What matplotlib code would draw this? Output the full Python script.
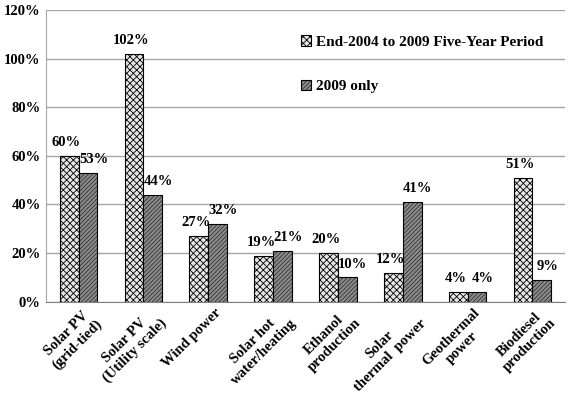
import numpy as np
import matplotlib
matplotlib.use("Agg")
import matplotlib.pyplot as plt
from matplotlib.ticker import FuncFormatter
from matplotlib.transforms import ScaledTranslation

categories = ["Solar PV\n(grid-tied)", "Solar PV\n(Utility scale)", "Wind power",
              "Solar hot\nwater/heating", "Ethanol\nproduction",
              "Solar\nthermal  power", "Geothermal\npower", "Biodiesel\nproduction"]
five_year = [60, 102, 27, 19, 20, 12, 4, 51]
only_2009 = [53, 44, 32, 21, 10, 41, 4, 9]
series_names = ["End-2004 to 2009 Five-Year Period", "2009 only"]

plt.rcParams["font.family"] = ["Liberation Serif", "DejaVu Serif"]
plt.rcParams["font.weight"] = "bold"
plt.rcParams["hatch.linewidth"] = 0.6
plt.rcParams["hatch.color"] = "#555555"

fig = plt.figure(figsize=(5.7, 3.94), dpi=100)
ax = fig.add_axes([0.081, 0.234, 0.91, 0.741])

x = np.arange(len(categories))
w = 0.29
b1 = ax.bar(x - w / 2, five_year, w, color="#e6e6e6", edgecolor="black",
            linewidth=0.8, hatch="xxxxx", label=series_names[0], zorder=3)
b2 = ax.bar(x + w / 2, only_2009, w, color="#8c8c8c", edgecolor="black",
            linewidth=0.8, hatch="////////", label=series_names[1], zorder=3)
for bar in b2:
    bar._hatch_color = (0.2, 0.2, 0.2, 1)

# value labels, nudged apart a little like the Excel original
for bars, vals, dx in [(b1, five_year, -2), (b2, only_2009, 4)]:
    for bar, v in zip(bars, vals):
        ax.annotate(f"{v}%", (bar.get_x() + bar.get_width() / 2, v),
                    xytext=(dx, 5), textcoords="offset points",
                    ha="center", va="bottom", fontsize=10.5, fontweight="bold")

ax.set_xlim(-0.5, len(categories) - 0.5)
ax.set_ylim(0, 120)
ax.set_yticks(range(0, 121, 20))
ax.yaxis.set_major_formatter(FuncFormatter(lambda v, p: f"{v:.0f}%"))
ax.grid(axis="y", color="#a6a6a6", linewidth=1.0, zorder=0)
ax.set_axisbelow(True)
for s in ["top", "right"]:
    ax.spines[s].set_visible(False)
ax.spines["left"].set_color("#a6a6a6")
ax.spines["bottom"].set_color("#808080")
ax.tick_params(axis="y", length=0, labelsize=10.5, pad=4)
ax.tick_params(axis="x", length=0, pad=3)
ax.set_xticks(x)
ax.set_xticklabels(categories, rotation=45, ha="right", rotation_mode="anchor",
                   fontsize=10.5, fontweight="bold", multialignment="center")
shift = ScaledTranslation(6 / 100, 0, fig.dpi_scale_trans)
for lbl in ax.get_xticklabels():
    lbl.set_transform(lbl.get_transform() + shift)
for lbl in ax.get_yticklabels():
    lbl.set_fontweight("bold")

ax.legend(loc="upper right", bbox_to_anchor=(0.985, 0.96), frameon=False,
          prop={"weight": "bold", "size": 11},
          handlelength=0.7, handleheight=0.7, handletextpad=0.3,
          labelspacing=2.0)

fig.savefig("out.png", dpi=100)
